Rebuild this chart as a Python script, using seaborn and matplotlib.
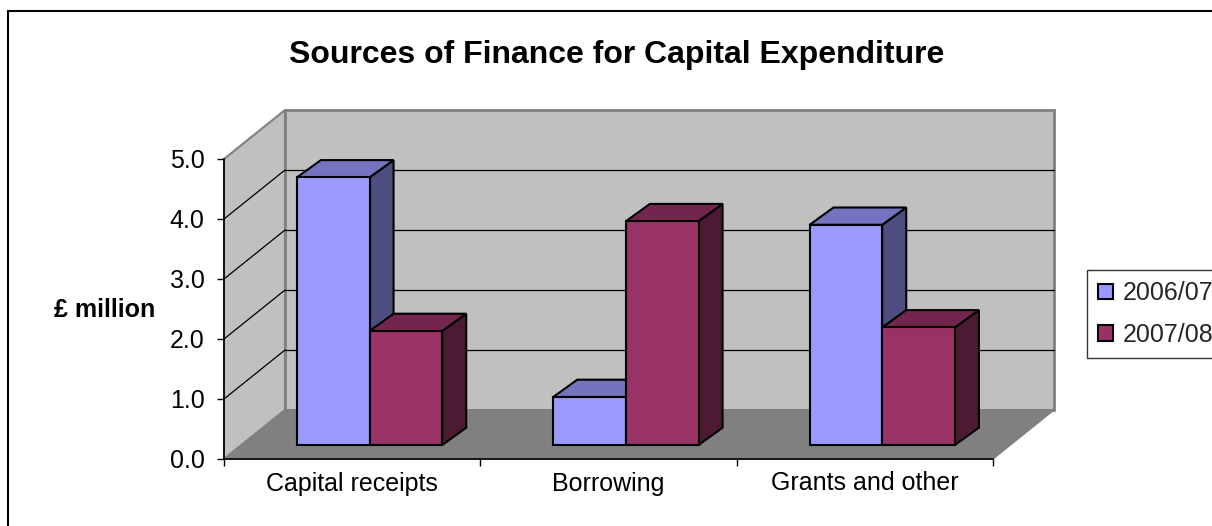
import numpy as np
import pandas as pd
import matplotlib
matplotlib.use("Agg")
import matplotlib.pyplot as plt
import seaborn as sns
from matplotlib.patches import Polygon, Rectangle
from matplotlib.transforms import Affine2D

# ---------------- data ----------------
categories = ["Capital receipts", "Borrowing", "Grants and other"]
years = ["2006/07", "2007/08"]
values_2006 = [4.46, 0.80, 3.67]
values_2007 = [1.90, 3.73, 1.96]
yticks = [0, 1, 2, 3, 4, 5]
title = "Sources of Finance for Capital Expenditure"
ylabel = "£ million"

df = pd.DataFrame({
    "category": categories * 2,
    "year": [years[0]] * len(categories) + [years[1]] * len(categories),
    "value": values_2006 + values_2007,
})

sns.set_theme(style="white")
plt.rcParams["font.family"] = ["Liberation Sans", "DejaVu Sans"]

W, H = 1212, 526
fig = plt.figure(figsize=(W / 100, H / 100), dpi=100)
fig.patch.set_facecolor("white")
ax = fig.add_axes([224 / W, (H - 459) / H, 769 / W, 300 / H])
ax.set_facecolor("none")

front_cols = ["#9999FF", "#993366"]
top_cols = ["#7373BF", "#73264D"]
side_cols = ["#4D4D80", "#4D1A33"]

sns.barplot(data=df, x="category", y="value", hue="year", hue_order=years,
            order=categories, palette=front_cols, saturation=1, width=0.567,
            edgecolor="black", linewidth=1.5, ax=ax, legend=False)
ax.set_xlim(-0.5, 2.5)
ax.set_ylim(0, 5)

# oblique 3D offsets (pixel -> data units)
px_x = 769 / 3.0
px_y = 300 / 5.0
wall_dx, wall_dy = 61 / px_x, 49 / px_y
bar_ox, bar_oy = 17.4 / px_x, 14 / px_y
bar_dx, bar_dy = 24 / px_x, 17.3 / px_y

bars = list(ax.patches)

# walls and floor
x_lo, x_hi = -0.5, 2.5
y_top = yticks[-1]
wall_face = "#C0C0C0"
wall_edge = "#808080"
left_wall = Polygon([(x_lo, 0), (x_lo + wall_dx, wall_dy), (x_lo + wall_dx, y_top + wall_dy), (x_lo, y_top)],
                    closed=True, facecolor=wall_face, edgecolor=wall_edge, lw=1.5, zorder=0.5, clip_on=False)
back_wall = Polygon([(x_lo + wall_dx, wall_dy), (x_hi + wall_dx, wall_dy), (x_hi + wall_dx, y_top + wall_dy), (x_lo + wall_dx, y_top + wall_dy)],
                    closed=True, facecolor=wall_face, edgecolor=wall_edge, lw=2, zorder=0.5, clip_on=False)
floor = Polygon([(x_lo, 0), (x_hi, 0), (x_hi + wall_dx, wall_dy), (x_lo + wall_dx, wall_dy)],
                closed=True, facecolor="#808080", edgecolor="#808080", lw=1, zorder=0.6, clip_on=False)
for p in (left_wall, back_wall, floor):
    ax.add_patch(p)

for v in yticks[1:-1]:
    ax.plot([x_lo + wall_dx, x_hi + wall_dx], [v + wall_dy, v + wall_dy], color="black", lw=0.9, zorder=0.8, clip_on=False)
    ax.plot([x_lo, x_lo + wall_dx], [v, v + wall_dy], color="black", lw=0.9, zorder=0.8, clip_on=False)

# 3D bars
for p in bars:
    x0, w, h = p.get_x(), p.get_width(), p.get_height()
    cx = x0 + w / 2
    hue_i = 0 if cx < round(cx) else 1
    z = 3 + hue_i
    p.set_transform(Affine2D().translate(bar_ox, bar_oy) + ax.transData)
    p.set_clip_on(False)
    p.set_zorder(z + 0.2)
    xa, xb = x0 + bar_ox, x0 + w + bar_ox
    yb, yt = bar_oy, h + bar_oy
    side = Polygon([(xb, yb), (xb + bar_dx, yb + bar_dy), (xb + bar_dx, yt + bar_dy), (xb, yt)],
                   closed=True, facecolor=side_cols[hue_i], edgecolor="black", lw=1.5, zorder=z, clip_on=False)
    top = Polygon([(xa, yt), (xb, yt), (xb + bar_dx, yt + bar_dy), (xa + bar_dx, yt + bar_dy)],
                  closed=True, facecolor=top_cols[hue_i], edgecolor="black", lw=1.5, zorder=z + 0.1, clip_on=False)
    ax.add_patch(side)
    ax.add_patch(top)

# axes styling
for s in ("top", "right"):
    ax.spines[s].set_visible(False)
for s in ("left", "bottom"):
    ax.spines[s].set_color("black")
    ax.spines[s].set_linewidth(1.2)
    ax.spines[s].set_zorder(2)

FS = 18
ax.set_yticks(yticks)
ax.set_yticklabels([f"{v:.1f}" for v in yticks])
ax.set_xticks([-0.5, 0.5, 1.5, 2.5])
ax.set_xticklabels([])
ax.set_xticks([0, 1, 2], minor=True)
ax.set_xticklabels(categories, minor=True)
ax.tick_params(axis="x", which="major", bottom=True, length=5, width=1, color="black", direction="out")
ax.tick_params(axis="x", which="minor", bottom=True, length=0, pad=9, labelsize=FS, labelcolor="black")
ax.tick_params(axis="y", left=True, length=5, width=1, color="black", direction="out", pad=9, labelsize=FS, labelcolor="black")
ax.set_xlabel("")
ax.set_ylabel("")

# legend
handles = [Rectangle((0, 0), 1, 1, facecolor=c, edgecolor="black", lw=1.5) for c in front_cols]
leg = fig.legend(handles, years, loc="upper left", bbox_to_anchor=(1087 / W, 1 - 270 / H),
                 frameon=True, fancybox=False, edgecolor="black", fontsize=FS,
                 handlelength=0.6, handleheight=0.6, handletextpad=0.4,
                 labelspacing=0.7, borderpad=0.45, borderaxespad=0)
leg.get_frame().set_linewidth(1.0)

# title & y-label
fig.text(617 / W, 1 - 55 / H, title, ha="center", va="center", fontsize=23, weight="bold", color="black")
fig.text(155 / W, 1 - 310 / H, ylabel, ha="right", va="center", fontsize=FS, weight="bold", color="black")

# outer border
fig.add_artist(Rectangle((8 / W, -0.05), 1.1, (H - 11) / H + 0.05, transform=fig.transFigure,
                         fill=False, edgecolor="black", lw=1.5))

fig.savefig("out.png", dpi=100)
